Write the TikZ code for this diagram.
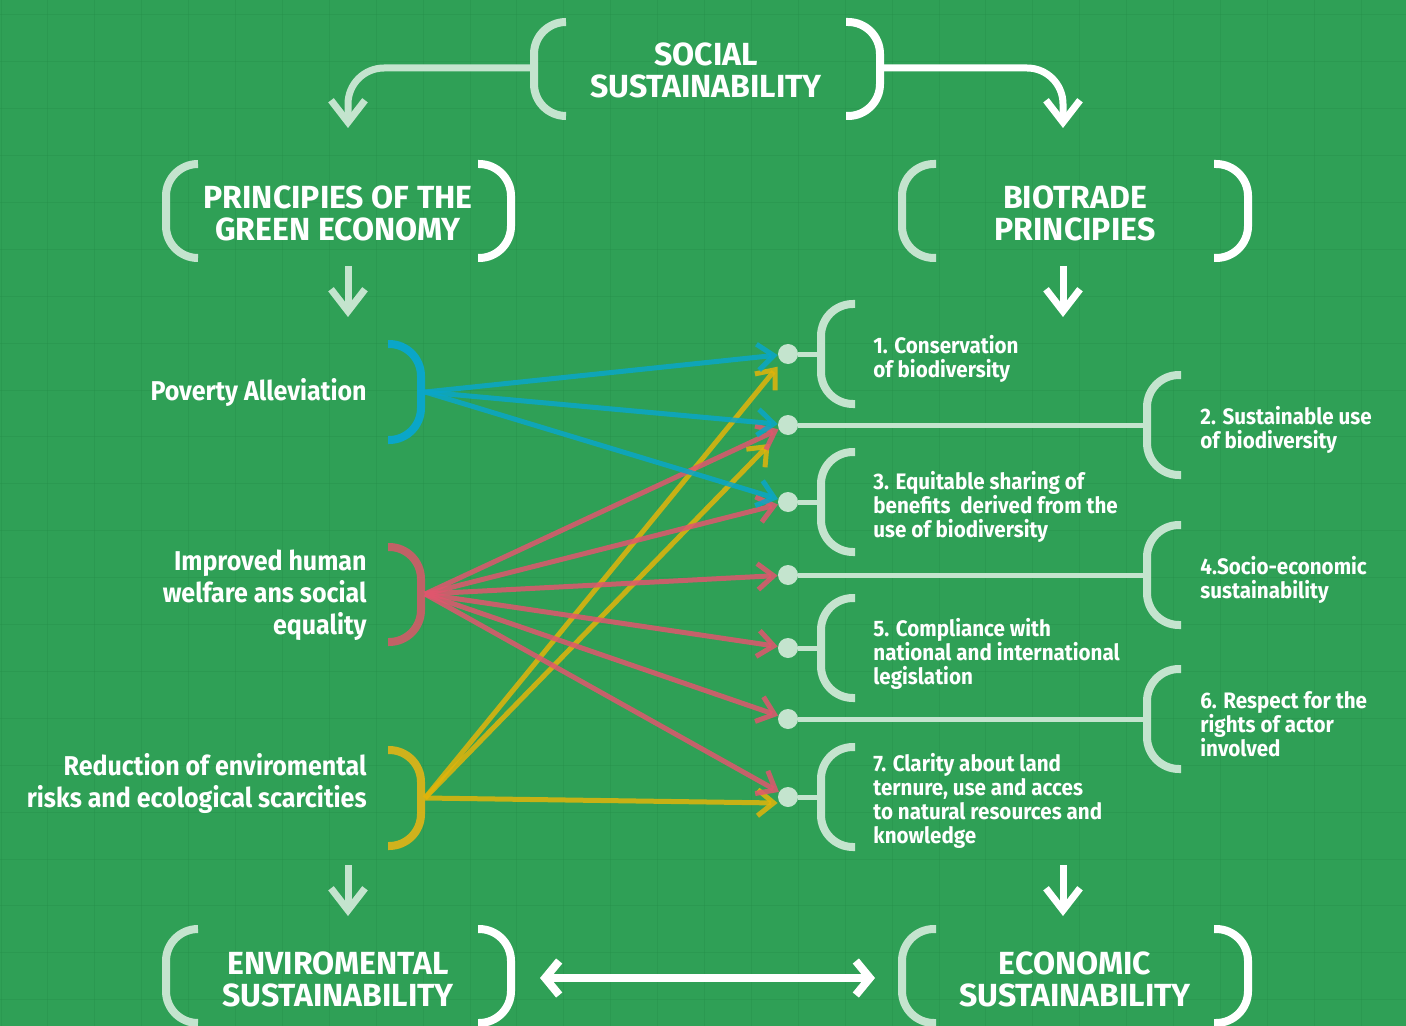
\documentclass[tikz,border=0pt]{standalone}
\usepackage{fontspec}
\setmainfont{Fira Sans}
\newfontfamily\itemfont{Fira Sans}[FakeStretch=0.92]
\newfontfamily\headfont{Fira Sans}
\usetikzlibrary{arrows.meta}
\definecolor{bg}{RGB}{47,160,86}
\definecolor{gridc}{RGB}{36,140,70}
\definecolor{pale}{RGB}{196,228,206}
\definecolor{cblue}{RGB}{10,166,200}
\definecolor{cred}{RGB}{224,86,110}
\definecolor{credb}{RGB}{192,98,102}
\definecolor{cyel}{RGB}{226,180,10}
\definecolor{cyelb}{RGB}{208,178,28}
\begin{document}
\begin{tikzpicture}[x=0.5pt,y=-0.5pt,
  brk/.style={line width=4pt, rounded corners=16pt},
  big/.style={line width=3.5pt, rounded corners=18pt, -{Straight Barb[length=11pt,width=17pt]}},
  bigboth/.style={line width=4pt, {Straight Barb[length=7pt,width=17pt]}-{Straight Barb[length=7pt,width=17pt]}},
  arr/.style={line width=2.5pt, opacity=0.85, -{Straight Barb[length=8pt,width=13pt]}},
  dot/.style={circle, fill=pale, minimum size=10pt, inner sep=0pt},
  link/.style={pale, line width=2.5pt},
  head/.style={text=white, font=\headfont\bfseries\fontsize{16}{16}\selectfont, align=center, inner sep=0pt},
  item/.style={text=white, font=\itemfont\bfseries\fontsize{11.2}{12}\selectfont, align=left, anchor=west, inner sep=0pt},
  lab/.style={text=white, font=\itemfont\bfseries\fontsize{13.6}{16}\selectfont, align=right, anchor=east, inner sep=0pt},
  gridl/.style={gridc, line width=0.4pt, opacity=0.3}
]
\useasboundingbox (0,0) rectangle (1406,1026);
\fill[bg] (0,0) rectangle (1406,1026);
\foreach \k in {0,...,30} {\draw[gridl] (0.9+\k*46.9,0) -- (0.9+\k*46.9,1026);}
\foreach \k in {0,...,22} {\draw[gridl] (0,14.7+\k*46.9) -- (1406,14.7+\k*46.9);}

% ---------- headings ----------
\node[head] (soc) at (706,70) {SOCIAL\\SUSTAINABILITY};
\node[head] (gre) at (338,213) {PRINCIPIES OF THE\\GREEN ECONOMY};
\node[head] (bio) at (1075,213) {BIOTRADE\\PRINCIPIES};
\node[head] (env) at (338,979) {ENVIROMENTAL\\SUSTAINABILITY};
\node[head] (eco) at (1075,979) {ECONOMIC\\SUSTAINABILITY};

% heading brackets
\draw[brk,pale] (566,22) -- (534,22) -- (534,116) -- (566,116);
\draw[brk,white] (846,22) -- (880,22) -- (880,116) -- (846,116);
\draw[brk,pale] (198,164) -- (166,164) -- (166,258) -- (198,258);
\draw[brk,white] (478,164) -- (511,164) -- (511,258) -- (478,258);
\draw[brk,pale] (936,164) -- (902,164) -- (902,258) -- (936,258);
\draw[brk,white] (1214,164) -- (1248,164) -- (1248,258) -- (1214,258);
\draw[brk,pale] (198,929) -- (166,929) -- (166,1023) -- (198,1023);
\draw[brk,white] (478,929) -- (511,929) -- (511,1023) -- (478,1023);
\draw[brk,pale] (936,929) -- (902,929) -- (902,1023) -- (936,1023);
\draw[brk,white] (1214,929) -- (1248,929) -- (1248,1023) -- (1214,1023);

\coordinate (socL) at (534,68);
\coordinate (socR) at (880,68);
\coordinate (greT) at (348,128);
\coordinate (bioT) at (1063,128);
\draw[big,pale] (socL) -- (348,68) -- (greT);
\draw[big,white] (socR) -- (1063,68) -- (bioT);

\coordinate (greB) at (348,266);
\coordinate (greA) at (348,317);
\coordinate (bioB) at (1063,266);
\coordinate (bioA) at (1063,317);
\draw[big,pale] (greB) -- (greA);
\draw[big,white] (bioB) -- (bioA);

\coordinate (envB) at (348,865);
\coordinate (envA) at (348,916);
\coordinate (ecoB) at (1063,865);
\coordinate (ecoA) at (1063,916);
\draw[big,pale] (envB) -- (envA);
\draw[big,white] (ecoB) -- (ecoA);

\coordinate (envR) at (540,978);
\coordinate (ecoL) at (875,978);
\draw[bigboth,white] (envR) -- (ecoL);

% ---------- left labels ----------
\node[lab] (pov) at (367,392) {Poverty Alleviation};
\node[lab] (imp) at (367,595) {Improved human\\welfare ans social\\equality};
\node[lab] (rdc) at (367,783) {Reduction of enviromental\\risks and ecological scarcities};

\draw[brk,cblue] (388,344) -- (421,344) -- (421,440) -- (388,440);
\draw[brk,credb] (388,547) -- (421,547) -- (421,642) -- (388,642);
\draw[brk,cyelb] (388,750) -- (421,750) -- (421,846) -- (388,846);
\coordinate (povO) at (425,392);
\coordinate (impO) at (425,594);
\coordinate (rdcO) at (425,798);

% ---------- right items ----------
\foreach \n/\y in {1/354,2/425,3/502,4/575,5/648,6/719,7/797} {
  \node[dot] (d\n) at (788,\y) {};
}
% odd items: short links
\foreach \n/\y in {1/354,3/502,5/648,7/797} {
  \draw[link] (d\n) -- (821,\y);
  \draw[brk,pale] (855,\y-50) -- (821,\y-50) -- (821,\y+50) -- (855,\y+50);
}
% even items: long links
\foreach \n/\y in {2/425,4/575,6/719} {
  \draw[link] (d\n) -- (1147,\y);
  \draw[brk,pale] (1181,\y-50) -- (1147,\y-50) -- (1147,\y+50) -- (1181,\y+50);
}

\node[item] (i1) at (873,359) {1. Conservation\\of biodiversity};
\node[item] (i2) at (1200,430) {2. Sustainable use\\of biodiversity};
\node[item] (i3) at (873,507) {3. Equitable sharing of\\benefits\ \ derived from the\\use of biodiversity};
\node[item] (i4) at (1200,580) {4.Socio-economic\\sustainability};
\node[item] (i5) at (873,654) {5. Compliance with\\national and international\\legislation};
\node[item] (i6) at (1200,724) {6. Respect for the\\rights of actor\\involved};
\node[item] (i7) at (873,801) {7. Clarity about land\\ternure, use and acces\\to natural resources and\\knowledge};

% ---------- coloured arrows ----------
\draw[arr,cyel,shorten >=3pt] (rdcO) -- (d1);
\draw[arr,cyel,shorten >=8pt] (rdcO) -- (d2);
\draw[arr,cyel] (rdcO) -- ([yshift=-3pt]d7.west);

\draw[arr,cred] (impO) -- (d2);
\draw[arr,cred] (impO) -- (d3);
\draw[arr,cred] (impO) -- (d4);
\draw[arr,cred] (impO) -- (d5);
\draw[arr,cred] (impO) -- (d6);
\draw[arr,cred] (impO) -- (d7);

\draw[arr,cblue] (povO) -- (d1);
\draw[arr,cblue] (povO) -- (d2);
\draw[arr,cblue] (povO) -- (d3);
\end{tikzpicture}
\end{document}
